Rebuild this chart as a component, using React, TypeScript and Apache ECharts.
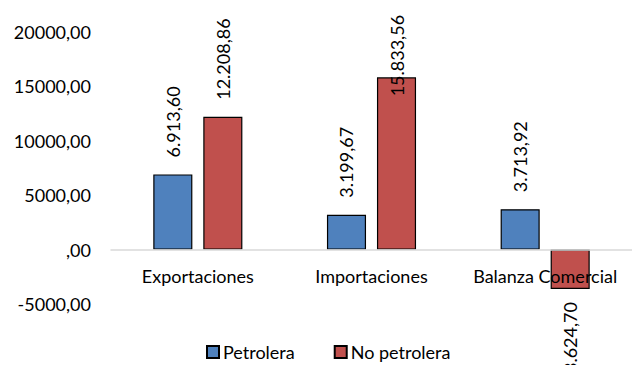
import React, { useEffect, useRef } from "react";
import * as echarts from "echarts";

const categories = ["Exportaciones", "Importaciones", "Balanza Comercial"];
const petrolera = [6913.6, 3199.67, 3713.92];
const noPetrolera = [12208.86, 15833.56, -3624.7];
const seriesNames = ["Petrolera", "No petrolera"];
const yTicks = { min: -5000, max: 20000, interval: 5000 };

const FONT = "Lato";
const FS = 18;

function fmt(v: number, decimals = 2, thousands = true): string {
  const neg = v < 0;
  const abs = Math.abs(v);
  const fixed = abs.toFixed(decimals);
  let [intPart, dec] = fixed.split(".");
  if (thousands) intPart = intPart.replace(/\B(?=(\d{3})+(?!\d))/g, ".");
  if (intPart === "0") intPart = "";
  return (neg ? "-" : "") + intPart + "," + dec;
}

export default function App() {
  const ref = useRef<HTMLDivElement>(null);
  useEffect(() => {
    document.body.style.margin = "0";
    const chart = echarts.init(ref.current!, null, { renderer: "svg" });
    const labelBase = {
      show: true,
      position: "top",
      rotate: 90,
      align: "left",
      verticalAlign: "middle",
      distance: 17,
      color: "#000",
      fontFamily: FONT,
      fontSize: FS,
      formatter: (p: any) => fmt(p.value),
    };
    const mkData = (arr: number[]) =>
      arr.map((v) => {
        if (v < 0) {
          return { value: v, label: { position: "bottom", align: "right", distance: 13 } };
        }
        if (v > 15000) {
          return { value: v, label: { distance: -19 } };
        }
        return v;
      });
    chart.setOption({
      animation: false,
      grid: { left: 111, width: 526, top: 32, bottom: 61, containLabel: false },
      legend: {
        top: 338,
        left: 201,
        itemWidth: 12,
        itemHeight: 12,
        itemGap: 39,
        icon: "rect",
        textStyle: { fontFamily: FONT, fontSize: FS, color: "#000", padding: [0, 0, 0, -1] },
        data: seriesNames,
      },
      xAxis: {
        type: "category",
        data: categories,
        z: 5,
        axisLine: { onZero: true, lineStyle: { color: "#D9D9D9", width: 1.5 } },
        axisTick: { show: false },
        axisLabel: { fontFamily: FONT, fontSize: FS, color: "#000", margin: -37, interval: 0, hideOverlap: false },
      },
      yAxis: {
        type: "value",
        min: yTicks.min,
        max: yTicks.max,
        interval: yTicks.interval,
        splitLine: { show: false },
        axisLine: { show: false },
        axisTick: { show: false },
        axisLabel: {
          fontFamily: FONT,
          fontSize: FS,
          color: "#000",
          margin: 20,
          formatter: (v: number) => fmt(v, 2, false),
        },
      },
      series: [
        {
          name: seriesNames[0],
          type: "bar",
          data: mkData(petrolera),
          barWidth: "22.5%",
          barGap: "28%",
          z: 2,
          itemStyle: { color: "#4F81BD", borderColor: "#000", borderWidth: 1.2 },
          label: labelBase,
        },
        {
          name: seriesNames[1],
          type: "bar",
          data: mkData(noPetrolera),
          barWidth: "22.5%",
          barGap: "28%",
          z: 2,
          itemStyle: { color: "#C0504D", borderColor: "#000", borderWidth: 1.2 },
          label: labelBase,
        },
      ],
    });
    return () => chart.dispose();
  }, []);
  return <div ref={ref} style={{ width: 632, height: 365 }} />;
}
